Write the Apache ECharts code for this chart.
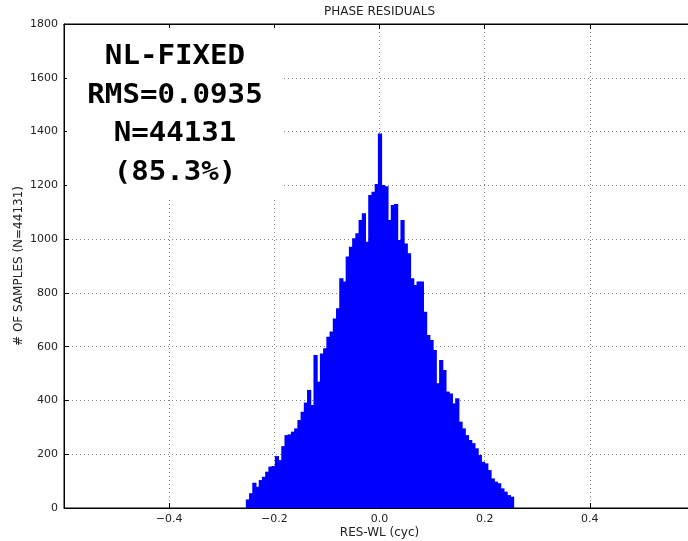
<!DOCTYPE html>
<html>
<head>
<meta charset="utf-8">
<script src="https://cdn.jsdelivr.net/npm/echarts@6/dist/echarts.min.js"></script>
<style>
  html, body { margin: 0; padding: 0; background: #fff; }
  #chart { width: 688px; height: 541px; }
</style>
</head>
<body>
<div id="chart"></div>
<script>
// histogram: 83 equal bins, symmetric around zero
const binStart = -0.2542;
const binEnd = 0.2542;
const counts = [
  32, 55, 94, 79, 104, 116, 135, 154, 156, 193,
  178, 230, 271, 274, 284, 296, 327, 358, 392, 439,
  383, 569, 470, 575, 594, 637, 656, 705, 743, 854,
  842, 935, 972, 1003, 1022, 1071, 1096, 990, 1164, 1176,
  1205, 1393, 1201, 1197, 1071, 1127, 1131, 997, 1071, 984,
  947, 854, 829, 842, 842, 730, 643, 625, 588, 464,
  550, 513, 433, 426, 389, 408, 321, 296, 271, 253,
  241, 222, 197, 172, 166, 141, 110, 98, 92, 73,
  61, 48, 42
];
const xTicks = [-0.6, 0.6, 0.2];      // min, max, step
const yTicks = [0, 1800, 200];
const infoLines = ['NL-FIXED', 'RMS=0.0935', 'N=44131', '(85.3%)'];

const binWidth = (binEnd - binStart) / counts.length;
const bins = counts.map((c, i) => [binStart + i * binWidth, binStart + (i + 1) * binWidth, c]);

const chart = echarts.init(document.getElementById('chart'));

const tickFont = { fontFamily: 'DejaVu Sans', fontSize: 11, color: '#222' };
const nameFont = { fontFamily: 'DejaVu Sans', fontSize: 12, color: '#222' };
const gridLine = { show: true, lineStyle: { color: '#666', width: 0.8, type: [1, 3] } };

const option = {
  animation: false,
  backgroundColor: '#fff',
  title: {
    text: 'PHASE RESIDUALS',
    left: 379.5,
    top: 6,
    padding: 0,
    textAlign: 'center',
    textStyle: { fontFamily: 'DejaVu Sans', fontSize: 12, fontWeight: 'normal', color: '#222' }
  },
  grid: {
    left: 64, right: -7, top: 24, bottom: 33,
    outerBoundsMode: 'none',
    containLabel: false,
    show: true, borderColor: '#000', borderWidth: 1, backgroundColor: 'transparent'
  },
  xAxis: [
    {
      type: 'value',
      position: 'bottom',
      min: xTicks[0], max: xTicks[1], interval: xTicks[2],
      name: 'RES-WL (cyc)',
      nameLocation: 'middle',
      nameGap: 19,
      nameMoveOverlap: false,
      nameTextStyle: nameFont,
      axisLine: { show: true, onZero: false, lineStyle: { color: '#000', width: 1 } },
      axisTick: { show: true, inside: true, length: 5, lineStyle: { color: '#000' } },
      axisLabel: {
        ...tickFont,
        margin: 6,
        showMinLabel: false,
        showMaxLabel: false,
        formatter: v => v.toFixed(1).replace('-', '\u2212')
      },
      splitLine: gridLine
    },
    {
      type: 'value',
      position: 'top',
      min: xTicks[0], max: xTicks[1], interval: xTicks[2],
      axisLine: { show: true, onZero: false, lineStyle: { color: '#000', width: 1 } },
      axisTick: { show: true, inside: true, length: 5, lineStyle: { color: '#000' } },
      axisLabel: { show: false },
      splitLine: { show: false }
    }
  ],
  yAxis: {
    type: 'value',
    position: 'left',
    min: yTicks[0], max: yTicks[1], interval: yTicks[2],
    name: '# OF SAMPLES (N=44131)',
    nameLocation: 'middle',
    nameGap: 39,
    nameMoveOverlap: false,
    nameTextStyle: nameFont,
    axisLine: { show: true, onZero: false, lineStyle: { color: '#000', width: 1 } },
    axisTick: { show: true, inside: true, length: 5, lineStyle: { color: '#000' } },
    axisLabel: { ...tickFont, margin: 6, formatter: v => String(v) },
    splitLine: gridLine
  },
  graphic: [
    {
      type: 'rect',
      z: 1,
      shape: { x: 67, y: 28, width: 216, height: 169 },
      style: { fill: '#fff' }
    },
    {
      type: 'group',
      x: 175,
      y: 0,
      scaleX: 1.12,
      z: 2,
      children: infoLines.map((t, i) => ({
        type: 'text',
        x: 0,
        y: 57.5 + i * 38.5,
        z: 2,
        style: {
          text: t,
          font: 'bold 26px "DejaVu Sans Mono"',
          fill: '#000',
          textAlign: 'center',
          textVerticalAlign: 'middle'
        }
      }))
    }
  ],
  series: [
    {
      type: 'custom',
      xAxisIndex: 0,
      yAxisIndex: 0,
      encode: { x: [0, 1], y: 2 },
      data: bins,
      renderItem: (params, api) => {
        const p0 = api.coord([api.value(0), api.value(2)]);
        const p1 = api.coord([api.value(1), 0]);
        return {
          type: 'rect',
          shape: { x: p0[0], y: p0[1], width: p1[0] - p0[0] + 1, height: p1[1] - p0[1] },
          style: { fill: '#0000ff' }
        };
      }
    }
  ]
};

chart.setOption(option);
</script>
</body>
</html>
